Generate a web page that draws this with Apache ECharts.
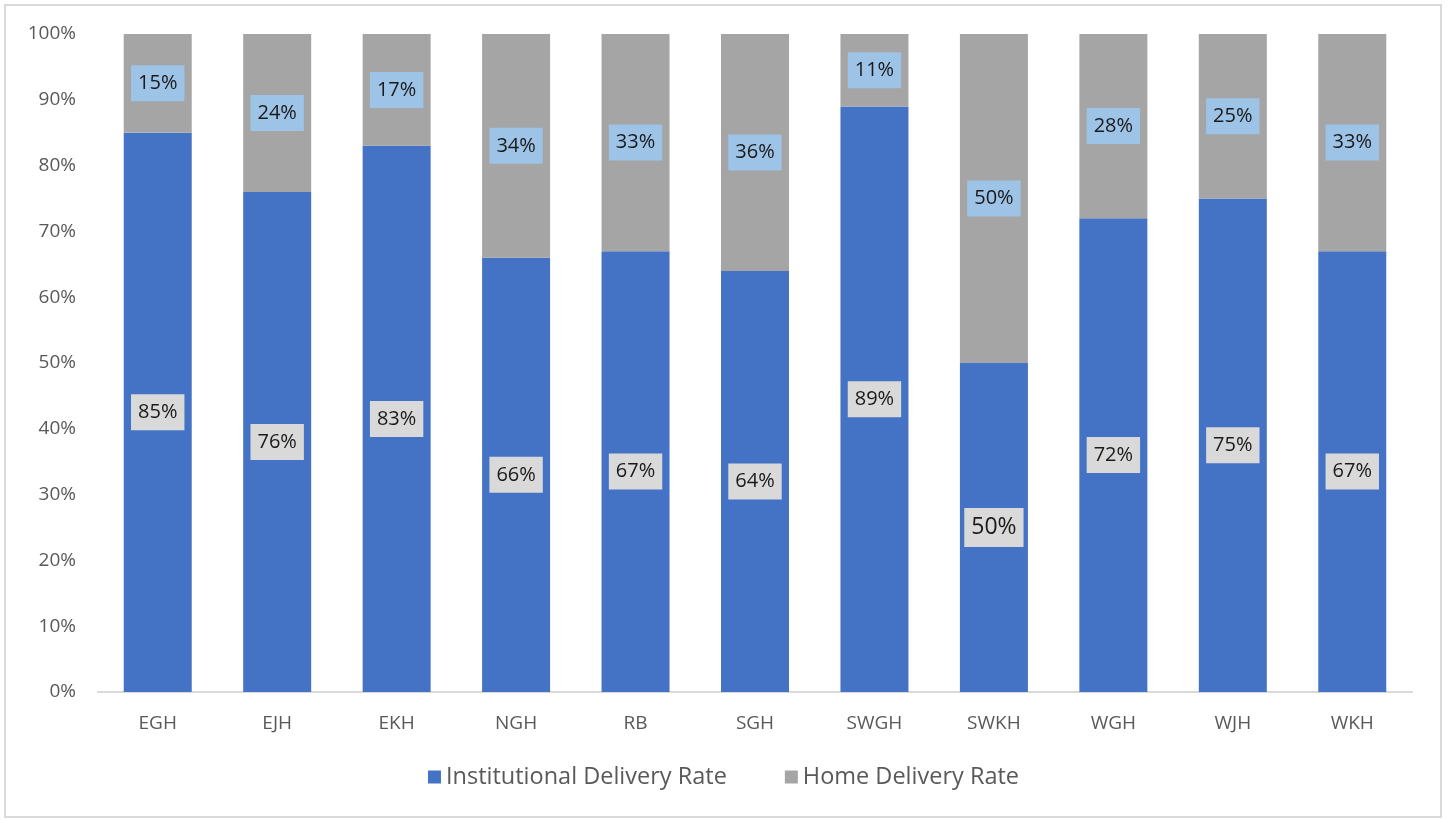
<!DOCTYPE html>
<html>
<head>
<meta charset="utf-8">
<script src="https://cdn.jsdelivr.net/npm/echarts@6/dist/echarts.min.js"></script>
<style>
  html, body { margin: 0; padding: 0; background: #fff; }
  #chart { width: 1447px; height: 820px; }
</style>
</head>
<body>
<div id="chart"></div>
<script>
const categories = ['EGH', 'EJH', 'EKH', 'NGH', 'RB', 'SGH', 'SWGH', 'SWKH', 'WGH', 'WJH', 'WKH'];
const institutional = [85, 76, 83, 66, 67, 64, 89, 50, 72, 75, 67];
const home = [15, 24, 17, 34, 33, 36, 11, 50, 28, 25, 33];
const yTicks = [0, 10, 20, 30, 40, 50, 60, 70, 80, 90, 100];

const font = '"Open Sans", "Noto Sans", sans-serif';

const chart = echarts.init(document.getElementById('chart'));

const labelBase = {
  show: true,
  position: 'inside',
  formatter: p => p.value + '%',
  fontFamily: font,
  fontSize: 20,
  color: '#1a1a1a',
  padding: [9, 7, 7, 7]
};

// the SWKH institutional label is drawn a bit bigger in the original
const instData = institutional.map((v, i) => i === 7
  ? { value: v, label: { fontSize: 23, padding: [9, 7, 7, 7] } }
  : v);

const option = {
  animation: false,
  graphic: [{
    type: 'rect',
    shape: { x: 5, y: 5, width: 1436, height: 812 },
    style: { fill: 'none', stroke: '#d9d9d9', lineWidth: 2 }
  }],
  grid: { left: 98, right: 35, top: 34, bottom: 128 },
  legend: {
    bottom: 26,
    left: 'center',
    itemWidth: 13,
    itemHeight: 13,
    itemGap: 58,
    icon: 'rect',
    textStyle: { fontFamily: font, fontSize: 23.5, color: '#595959' },
    data: ['Institutional Delivery Rate', 'Home Delivery Rate']
  },
  xAxis: {
    type: 'category',
    data: categories,
    axisLine: { lineStyle: { color: '#d9d9d9', width: 2 } },
    axisTick: { show: false },
    axisLabel: { fontFamily: font, fontSize: 19, color: '#595959', margin: 22 }
  },
  yAxis: {
    type: 'value',
    min: yTicks[0],
    max: yTicks[yTicks.length - 1],
    interval: 10,
    splitLine: { show: false },
    axisLine: { show: false },
    axisTick: { show: false },
    axisLabel: { fontFamily: font, fontSize: 19, color: '#595959', margin: 22, formatter: '{value}%' }
  },
  series: [
    {
      name: 'Institutional Delivery Rate',
      type: 'bar',
      stack: 'total',
      barWidth: 68,
      data: instData,
      itemStyle: { color: '#4472c4' },
      label: Object.assign({}, labelBase, { backgroundColor: '#d9d9d9' })
    },
    {
      name: 'Home Delivery Rate',
      type: 'bar',
      stack: 'total',
      barWidth: 68,
      data: home,
      itemStyle: { color: '#a5a5a5' },
      label: Object.assign({}, labelBase, { backgroundColor: '#9dc3e6' })
    }
  ]
};

chart.setOption(option);
</script>
</body>
</html>
